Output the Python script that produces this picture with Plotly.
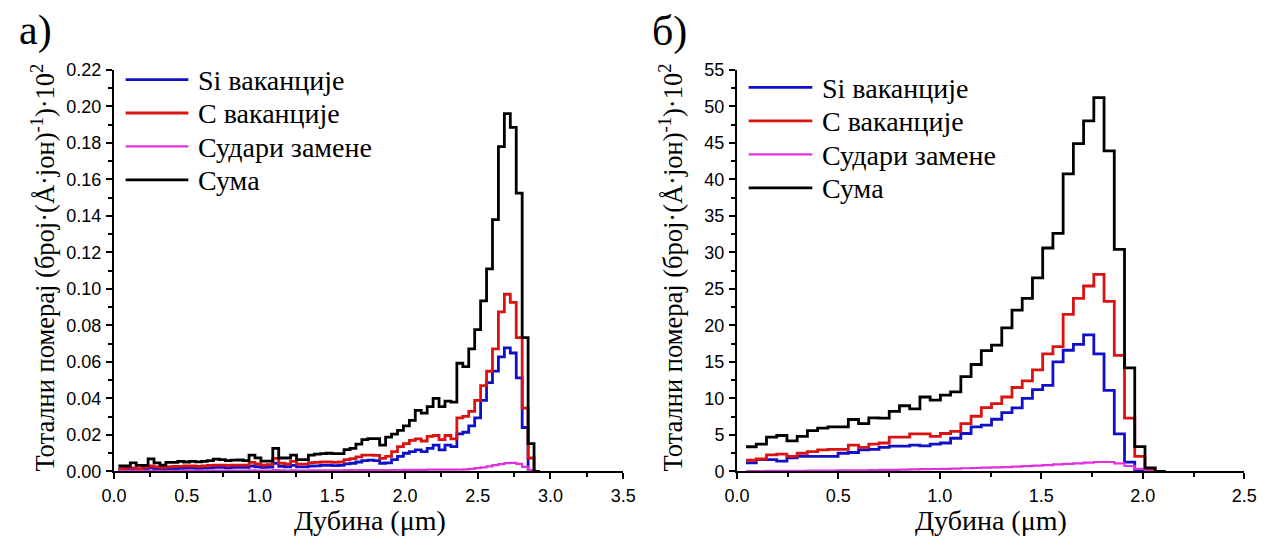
import numpy as np
import plotly.graph_objects as go

# ---------------- panel а) : depth bins (µm) ----------------
A_START = 0.031
A_BIN = 0.0408

a_si = [0.0010, 0.0012, 0.0015, 0.0010, 0.0012, 0.0020, 0.0015, 0.0012, 0.0015, 0.0016,
        0.0017, 0.0018, 0.0018, 0.0017, 0.0019, 0.0020, 0.0022, 0.0022, 0.0020, 0.0022,
        0.0022, 0.0022, 0.0030, 0.0026, 0.0022, 0.0024, 0.0045, 0.0028, 0.0026, 0.0033,
        0.0025, 0.0025, 0.0030, 0.0031, 0.0033, 0.0033, 0.0032, 0.0033, 0.0042, 0.0045,
        0.0052, 0.0060, 0.0062, 0.0060, 0.0045, 0.0047, 0.0065, 0.0083, 0.0100, 0.0109,
        0.0118, 0.0109, 0.0127, 0.0144, 0.0118, 0.0144, 0.0136, 0.0206, 0.0215, 0.0250,
        0.0294, 0.0390, 0.0487, 0.0550, 0.0628, 0.0677, 0.0649, 0.0513, 0.0241, 0.0005,
        0.0]

a_c = [0.0015, 0.0020, 0.0020, 0.0015, 0.0022, 0.0030, 0.0025, 0.0022, 0.0025, 0.0028,
       0.0028, 0.0030, 0.0030, 0.0028, 0.0030, 0.0033, 0.0035, 0.0035, 0.0033, 0.0035,
       0.0035, 0.0035, 0.0050, 0.0042, 0.0035, 0.0038, 0.0072, 0.0045, 0.0042, 0.0055,
       0.0040, 0.0040, 0.0048, 0.0050, 0.0052, 0.0052, 0.0050, 0.0052, 0.0065, 0.0070,
       0.0080, 0.0090, 0.0090, 0.0088, 0.0072, 0.0083, 0.0109, 0.0136, 0.0153, 0.0170,
       0.0179, 0.0167, 0.0192, 0.0197, 0.0174, 0.0197, 0.0179, 0.0294, 0.0302, 0.0329,
       0.0390, 0.0470, 0.0549, 0.0672, 0.0874, 0.0971, 0.0927, 0.0733, 0.0347, 0.0074,
       0.0]

a_rep = [0.0003, 0.0003, 0.0003, 0.0003, 0.0003, 0.0004, 0.0003, 0.0003, 0.0004, 0.0004,
         0.0004, 0.0004, 0.0004, 0.0004, 0.0004, 0.0005, 0.0005, 0.0005, 0.0005, 0.0005,
         0.0005, 0.0005, 0.0006, 0.0005, 0.0005, 0.0005, 0.0007, 0.0006, 0.0005, 0.0006,
         0.0005, 0.0005, 0.0006, 0.0006, 0.0006, 0.0006, 0.0006, 0.0006, 0.0007, 0.0007,
         0.0007, 0.0008, 0.0008, 0.0008, 0.0007, 0.0008, 0.0008, 0.0008, 0.0009, 0.0009,
         0.0009, 0.0009, 0.0010, 0.0010, 0.0010, 0.0010, 0.0010, 0.0010, 0.0012, 0.0014,
         0.0018, 0.0023, 0.0028, 0.0035, 0.0040, 0.0046, 0.0047, 0.0042, 0.0025, 0.0008,
         0.0]

a_sum = [0.0030, 0.0030, 0.0047, 0.0033, 0.0033, 0.0069, 0.0047, 0.0035, 0.0050, 0.0050,
         0.0055, 0.0052, 0.0055, 0.0053, 0.0055, 0.0060, 0.0068, 0.0065, 0.0060, 0.0062,
         0.0063, 0.0060, 0.0090, 0.0075, 0.0057, 0.0057, 0.0127, 0.0074, 0.0074, 0.0090,
         0.0065, 0.0065, 0.0090, 0.0095, 0.0098, 0.0100, 0.0098, 0.0098, 0.0120, 0.0127,
         0.0150, 0.0175, 0.0180, 0.0180, 0.0144, 0.0188, 0.0205, 0.0225, 0.0250, 0.0280,
         0.0335, 0.0320, 0.0355, 0.0400, 0.0355, 0.0385, 0.0380, 0.0593, 0.0575, 0.0672,
         0.0777, 0.0935, 0.1110, 0.1380, 0.1780, 0.1960, 0.1885, 0.1525, 0.0733, 0.0153,
         0.0]

# ---------------- panel б) : depth bins (µm) ----------------
B_START = 0.045
B_BIN = 0.0504

b_si = [1.19, 1.63, 1.63, 1.41, 1.85, 2.07, 2.07, 2.07, 2.07, 2.50,
        2.60, 2.95, 3.03, 3.30, 3.47, 3.47, 3.60, 3.50, 3.74, 3.90,
        4.55, 5.20, 6.10, 6.35, 7.15, 8.05, 8.70, 10.0, 11.2, 11.8,
        15.0, 16.6, 17.4, 18.7, 16.1, 11.1, 5.14, 1.28, 0.20, 0.0,
        0.0]

b_c = [1.54, 1.71, 2.28, 2.37, 2.07, 2.50, 2.72, 2.95, 3.03, 3.03,
       3.60, 3.30, 3.74, 3.90, 4.70, 4.70, 5.14, 5.14, 4.80, 5.20,
       5.50, 6.55, 7.56, 8.75, 9.30, 10.2, 11.5, 12.4, 13.9, 16.1,
       17.1, 21.5, 23.7, 25.4, 27.0, 23.3, 15.9, 7.30, 2.07, 0.30,
       0.0]

b_rep = [0.05, 0.06, 0.07, 0.08, 0.09, 0.10, 0.11, 0.12, 0.13, 0.14,
         0.15, 0.17, 0.19, 0.21, 0.23, 0.26, 0.28, 0.31, 0.34, 0.37,
         0.40, 0.44, 0.48, 0.52, 0.56, 0.60, 0.66, 0.72, 0.80, 0.88,
         0.96, 1.04, 1.12, 1.20, 1.30, 1.30, 1.10, 0.75, 0.35, 0.10,
         0.0]

b_sum = [3.39, 3.74, 4.70, 4.93, 4.18, 4.80, 5.60, 5.93, 6.10, 6.10,
         7.12, 6.55, 7.34, 7.30, 8.22, 9.00, 8.57, 10.2, 9.76, 10.45,
         10.9, 13.0, 14.65, 16.55, 17.3, 19.65, 22.1, 23.7, 26.5, 30.6,
         32.6, 40.75, 44.9, 48.0, 51.2, 43.9, 30.4, 14.2, 3.40, 0.50,
         0.0]

NAMES = ["Si ваканције", "C ваканције", "Судари замене", "Сума"]
COLORS = ["#1010C8", "#DC1212", "#E030E0", "#000000"]
WIDTHS = [2.8, 2.8, 2.2, 2.8]

SERIF = "Liberation Serif"
SANS = "Liberation Sans"

W, H = 1272, 547


def edges(start, width, n):
    # bin edges for a step histogram: n bins -> n + 1 edges
    return start + width * np.arange(n + 1)


def px_x(p):
    return p / W


def px_y(p):
    return 1 - p / H


fig = go.Figure()

panels = [
    ("x", "y", A_START, A_BIN, [a_si, a_c, a_rep, a_sum]),
    ("x2", "y2", B_START, B_BIN, [b_si, b_c, b_rep, b_sum]),
]

for xa, ya, start, width, series in panels:
    for name, color, lw, vals in zip(NAMES, COLORS, WIDTHS, series):
        xs = edges(start, width, len(vals))
        ys = list(vals) + [vals[-1]]
        fig.add_trace(go.Scatter(
            x=xs, y=ys, mode="lines", name=name, showlegend=False,
            line=dict(color=color, width=lw, shape="hv"),
            xaxis=xa, yaxis=ya, hoverinfo="skip",
        ))

common_axis = dict(
    showline=True, linecolor="black", linewidth=1.8,
    ticks="outside", ticklen=6, tickwidth=1.5, tickcolor="black",
    showgrid=False, zeroline=False,
    tickfont=dict(family=SANS, size=18, color="black"),
)
minor_x = dict(ticks="outside", ticklen=3.5, tickwidth=1.5, tickcolor="black", dtick=0.25)

y_dom = [px_y(479), px_y(62)]

fig.update_layout(
    width=W, height=H,
    margin=dict(l=0, r=0, t=0, b=0),
    paper_bgcolor="white", plot_bgcolor="white",
    showlegend=False,
    xaxis=dict(domain=[px_x(103), px_x(623)], range=[0, 3.5], tick0=0, dtick=0.5,
               tickformat=".1f", anchor="y", ticklabelstandoff=1, minor=minor_x,
               **common_axis),
    yaxis=dict(domain=y_dom, range=[0, 0.2201], tick0=0, dtick=0.02, tickformat=".2f",
               anchor="x", ticklabelstandoff=1,
               minor=dict(ticks="outside", ticklen=3.5, tickwidth=1.5, tickcolor="black", dtick=0.01),
               **common_axis),
    xaxis2=dict(domain=[px_x(739), px_x(1257)], range=[0, 2.5], tick0=0, dtick=0.5,
                tickformat=".1f", anchor="y2", ticklabelstandoff=1, minor=minor_x,
                **common_axis),
    yaxis2=dict(domain=y_dom, range=[0, 55.01], tick0=0, dtick=5, anchor="x2",
                ticklabelstandoff=1,
                minor=dict(ticks="outside", ticklen=3.5, tickwidth=1.5, tickcolor="black", dtick=2.5),
                **common_axis),
)

# legend rows: (line start, line end, text start, first row centre, row step) in px
LEGENDS = [(115, 179, 187, 72.2, 34.7), (751, 816, 824, 80.3, 34.8)]

shapes = []
annotations = []
for x0, x1, xt, y0, step in LEGENDS:
    for i, (name, color, lw) in enumerate(zip(NAMES, COLORS, WIDTHS)):
        yc = y0 + i * step
        shapes.append(dict(type="line", xref="paper", yref="paper",
                           x0=px_x(x0), x1=px_x(x1), y0=px_y(yc), y1=px_y(yc),
                           line=dict(color=color, width=lw)))
        annotations.append(dict(text=name, x=px_x(xt), y=px_y(yc + 1.0),
                                xanchor="left", yanchor="middle",
                                font=dict(family=SERIF, size=28, color="black")))

y_title = "Тотални померај (број·(Å·јон)<sup>-1</sup>)·10<sup>2</sup>"
x_title = "Дубина (μm)"

annotations += [
    dict(text="а)", x=px_x(4), y=px_y(21), xanchor="left", yanchor="middle",
         font=dict(family=SERIF, size=42, color="black")),
    dict(text="б)", x=px_x(650), y=px_y(22), xanchor="left", yanchor="middle",
         font=dict(family=SERIF, size=42, color="black")),
    dict(text=y_title, x=px_x(31), y=px_y(267), textangle=-90,
         xanchor="center", yanchor="middle",
         font=dict(family=SERIF, size=26.5, color="black")),
    dict(text=y_title, x=px_x(672), y=px_y(267), textangle=-90,
         xanchor="center", yanchor="middle",
         font=dict(family=SERIF, size=26.5, color="black")),
    dict(text=x_title, x=px_x(364), y=px_y(530), xanchor="center", yanchor="middle",
         font=dict(family=SERIF, size=28, color="black")),
    dict(text=x_title, x=px_x(998), y=px_y(530), xanchor="center", yanchor="middle",
         font=dict(family=SERIF, size=28, color="black")),
]
for a in annotations:
    a.update(xref="paper", yref="paper", showarrow=False)

fig.update_layout(shapes=shapes, annotations=annotations)

fig.write_html("out.html")
